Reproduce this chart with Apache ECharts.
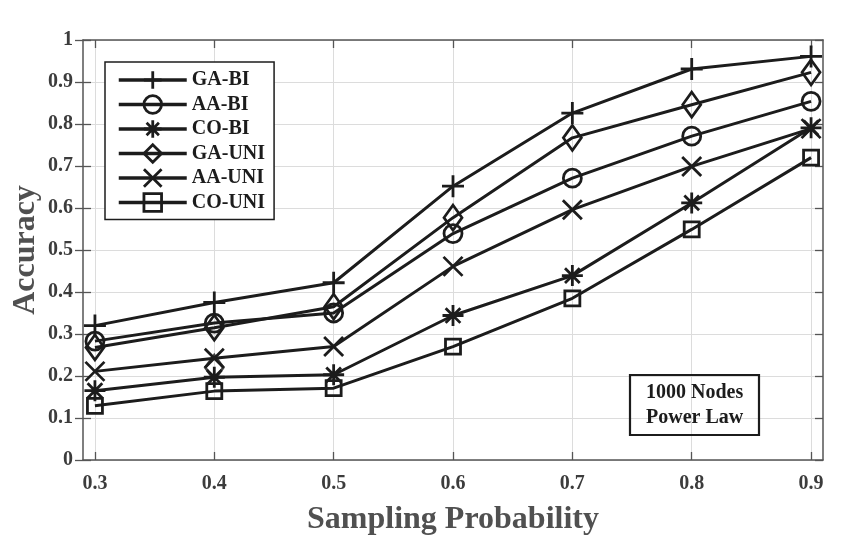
<!doctype html>
<html>
	<head>
		<meta charset="utf-8">
		<title>Accuracy vs Sampling Probability</title>
		<script src="https://cdn.jsdelivr.net/npm/echarts@6/dist/echarts.min.js"></script>
		<style>
			html, body {
				margin: 0;
				padding: 0;
				background: #fff;
			}
			#chart {
				width: 846px;
				height: 546px;
			}
		</style>
	</head>

	<body>
		<div id="chart"></div>
	</body>

	<script type="text/javascript">
		//采样概率 (x)
		var probs = [0.3, 0.4, 0.5, 0.6, 0.7, 0.8, 0.9];
		//刻度
		var xTicks = [0.3, 0.4, 0.5, 0.6, 0.7, 0.8, 0.9];
		//各算法的准确率
		var gaBi = [0.32, 0.375, 0.422, 0.652, 0.826, 0.931, 0.961];
		var aaBi = [0.283, 0.326, 0.350, 0.539, 0.671, 0.771, 0.854];
		var coBi = [0.165, 0.197, 0.203, 0.344, 0.439, 0.612, 0.791];
		var gaUni = [0.268, 0.315, 0.365, 0.577, 0.767, 0.846, 0.923];
		var aaUni = [0.211, 0.242, 0.270, 0.461, 0.596, 0.699, 0.789];
		var coUni = [0.129, 0.164, 0.171, 0.270, 0.385, 0.549, 0.720];
		//图中多出来的一个菱形标记
		var strayMark = [[0.4, 0.22]];

		var names = ['GA-BI', 'AA-BI', 'CO-BI', 'GA-UNI', 'AA-UNI', 'CO-UNI'];
		var values = [gaBi, aaBi, coBi, gaUni, aaUni, coUni];

		var ink = '#1c1c1c';
		var font = 'Liberation Serif';

		var symbols = [
			'path://M0,5L10,5M5,0L5,10',
			'circle',
			'path://M0,5L10,5M5,0L5,10M1.5,1.5L8.5,8.5M8.5,1.5L1.5,8.5',
			'diamond',
			'path://M0,0L10,10M10,0L0,10',
			'rect'
		];
		var sizes = [22, 18, 21, [18, 25], 19, 15];

		var pairs = function(ys) {
			return probs.map(function(x, i) {
				return [x, ys[i]];
			});
		};

		var series = names.map(function(name, k) {
			return {
				name: name,
				type: 'line',
				data: pairs(values[k]),
				symbol: symbols[k],
				symbolSize: sizes[k],
				showAllSymbol: true,
				z: 10 - k,
				lineStyle: {
					color: ink,
					width: 3
				},
				itemStyle: {
					color: 'rgba(0,0,0,0)',
					borderColor: ink,
					borderWidth: 2.8
				},
				emphasis: {
					disabled: true
				}
			};
		});

		series.push({
			name: 'stray',
			type: 'scatter',
			data: strayMark,
			symbol: 'diamond',
			symbolSize: [18, 25],
			itemStyle: {
				color: 'rgba(0,0,0,0)',
				borderColor: ink,
				borderWidth: 2.8
			}
		});

		var gridLine = {
			show: true,
			lineStyle: {
				color: '#dcdcdc',
				width: 1
			}
		};
		var axisLine = {
			show: true,
			onZero: false,
			lineStyle: {
				color: '#555',
				width: 1.5
			}
		};
		var tickStyle = {
			color: '#555',
			width: 1.3
		};
		var tickLabel = {
			color: '#3c3c3c',
			fontFamily: font,
			fontWeight: 'bold',
			fontSize: 20
		};
		var nameStyle = {
			color: '#505050',
			fontFamily: font,
			fontWeight: 'bold',
			fontSize: 32
		};

		var chart = echarts.init(document.getElementById('chart'));
		chart.setOption({
			animation: false,
			grid: {
				left: 83,
				right: 23,
				top: 40,
				bottom: 86,
				containLabel: false,
				outerBoundsMode: 'none'
			},
			legend: {
				data: names,
				orient: 'vertical',
				left: 105,
				top: 62,
				padding: [7, 9, 6, 12],
				itemWidth: 68,
				itemHeight: 22,
				itemGap: 2.5,
				borderColor: ink,
				borderWidth: 1.5,
				backgroundColor: '#fff',
				selectedMode: false,
				lineStyle: {
					width: 3.5
				},
				itemStyle: {
					borderWidth: 2.8
				},
				textStyle: {
					color: ink,
					fontFamily: font,
					fontWeight: 'bold',
					fontSize: 20,
					lineHeight: 22
				}
			},
			title: {
				text: '1000 Nodes\nPower Law',
				left: 630,
				top: 375,
				padding: [5, 16, 5, 16],
				borderColor: ink,
				borderWidth: 2.2,
				textStyle: {
					color: ink,
					fontFamily: font,
					fontWeight: 'bold',
					fontSize: 20,
					lineHeight: 25
				}
			},
			xAxis: [{
				type: 'value',
				min: 0.29,
				max: 0.91,
				name: 'Sampling Probability',
				nameLocation: 'middle',
				nameGap: 44,
				nameTextStyle: nameStyle,
				axisLine: axisLine,
				axisTick: {
					show: true,
					inside: true,
					length: 8,
					customValues: xTicks,
					lineStyle: tickStyle
				},
				axisLabel: Object.assign({
					customValues: xTicks,
					margin: 14,
					formatter: function(v) {
						return v.toFixed(1);
					}
				}, tickLabel),
				splitLine: gridLine
			}, {
				type: 'value',
				position: 'top',
				min: 0.29,
				max: 0.91,
				axisLine: axisLine,
				axisTick: {
					show: true,
					inside: true,
					length: 8,
					customValues: xTicks,
					lineStyle: tickStyle
				},
				axisLabel: { show: false },
				splitLine: { show: false }
			}],
			yAxis: [{
				type: 'value',
				min: 0,
				max: 1,
				interval: 0.1,
				name: 'Accuracy',
				nameLocation: 'middle',
				nameGap: 41,
				nameMoveOverlap: false,
				nameTextStyle: nameStyle,
				axisLine: axisLine,
				axisTick: {
					show: true,
					inside: false,
					length: 8,
					lineStyle: tickStyle
				},
				axisLabel: Object.assign({ margin: 10 }, tickLabel),
				splitLine: gridLine
			}, {
				type: 'value',
				position: 'right',
				min: 0,
				max: 1,
				interval: 0.1,
				axisLine: axisLine,
				axisTick: {
					show: true,
					inside: true,
					length: 8,
					lineStyle: tickStyle
				},
				axisLabel: { show: false },
				splitLine: { show: false }
			}, {
				type: 'value',
				position: 'left',
				min: 0,
				max: 1,
				interval: 0.1,
				axisLine: { show: false },
				axisTick: {
					show: true,
					inside: true,
					length: 8,
					lineStyle: tickStyle
				},
				axisLabel: { show: false },
				splitLine: { show: false }
			}],
			series: series
		});
	</script>

</html>
